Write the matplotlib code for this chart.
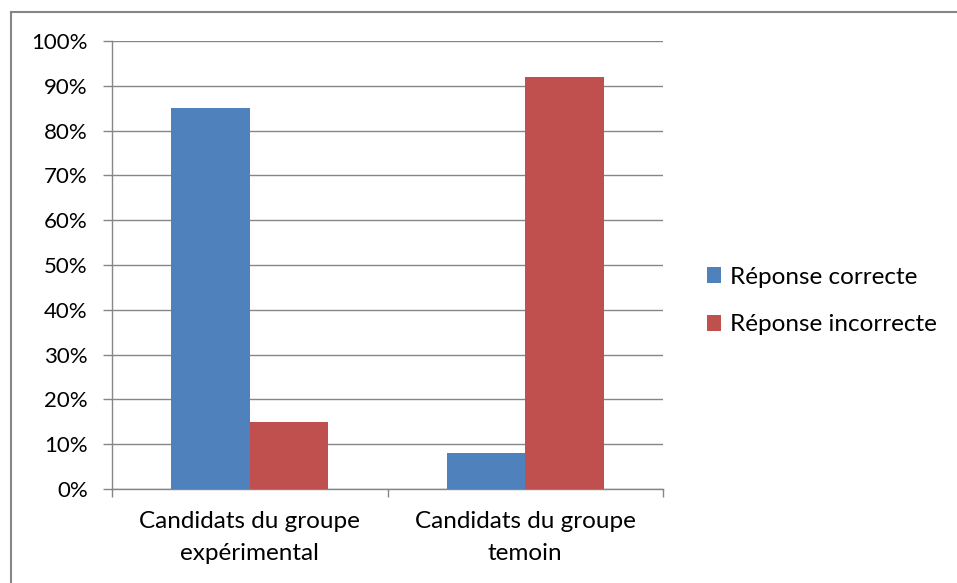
import matplotlib.pyplot as plt
from matplotlib.lines import Line2D
from matplotlib.ticker import FixedLocator

plt.rcParams['font.family'] = ['Lato', 'DejaVu Sans']

categories = ['Candidats du groupe\nexpérimental', 'Candidats du groupe\ntemoin']
correcte = [85, 8]
incorrecte = [15, 92]
series_names = ['Réponse correcte', 'Réponse incorrecte']
colors = ['#4F81BD', '#C0504D']
grid_color = '#868686'

fig = plt.figure(figsize=(9.57, 5.83), dpi=100)
ax = fig.add_axes([112 / 957, 94 / 583, 551 / 957, 448 / 583])

x = range(len(categories))
w = 0.285
b1 = ax.bar([i - w / 2 for i in x], correcte, width=w, color=colors[0], label=series_names[0], zorder=3)
b2 = ax.bar([i + w / 2 for i in x], incorrecte, width=w, color=colors[1], label=series_names[1], zorder=3)

ax.set_xlim(-0.5, 1.5)
ax.set_ylim(0, 100)
ax.set_yticks(range(0, 101, 10))
ax.set_yticklabels([f'{v}%' for v in range(0, 101, 10)], fontsize=16)
ax.set_xticks(list(x))
ax.set_xticklabels(categories, fontsize=17.5, linespacing=1.65)
ax.xaxis.set_minor_locator(FixedLocator([-0.5, 0.5, 1.5]))
ax.tick_params(axis='x', which='major', length=0, pad=16)
ax.tick_params(axis='x', which='minor', length=6, color=grid_color, width=1)
ax.tick_params(axis='y', length=6.5, color=grid_color, width=1, pad=11)

ax.grid(axis='y', color=grid_color, linewidth=1.0, zorder=0)
for s in ['top', 'right']:
    ax.spines[s].set_visible(False)
for s in ['left', 'bottom']:
    ax.spines[s].set_color(grid_color)
    ax.spines[s].set_linewidth(1.0)

fig.legend(handles=[b1, b2], loc='center left', bbox_to_anchor=(697 / 957, 1 - 301 / 583),
           frameon=False, fontsize=17.5, handlelength=0.6, handleheight=0.6,
           handletextpad=0.35, labelspacing=1.1, borderaxespad=0)

# cadre gris (haut et gauche visibles)
fy = 1 - 11.5 / 583
fx = 10.5 / 957
fig.add_artist(Line2D([fx, 1.0], [fy, fy], transform=fig.transFigure, color=grid_color, linewidth=1.5))
fig.add_artist(Line2D([fx, fx], [0, fy], transform=fig.transFigure, color=grid_color, linewidth=1.5))

plt.savefig('out.png', dpi=100)
